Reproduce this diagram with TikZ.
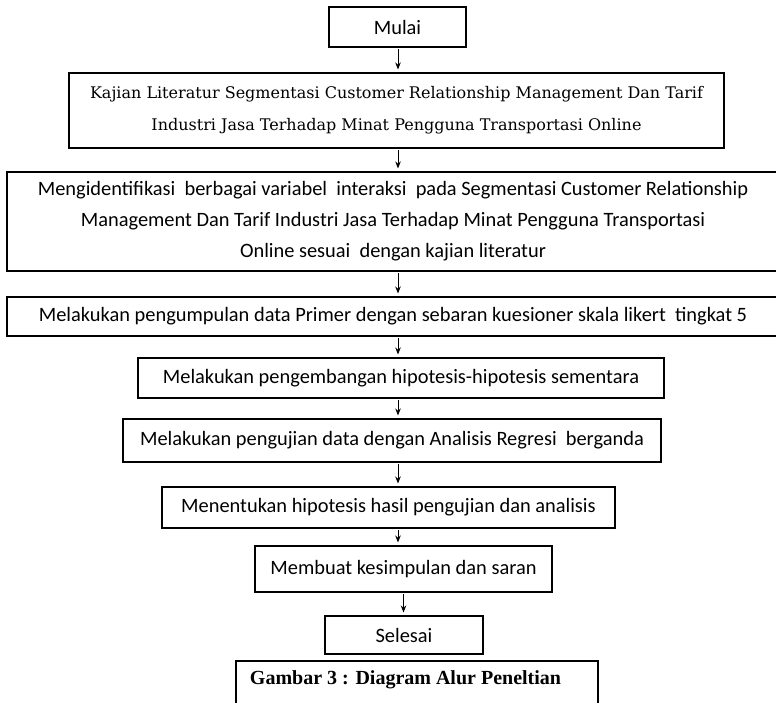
\documentclass[tikz,border=0pt]{standalone}
\usepackage{fontspec}
\setmainfont{Carlito}
\newfontfamily\kajianfont{DejaVu Serif}
\newfontfamily\captionfont{Liberation Serif}
\usepackage{tikz}
\usetikzlibrary{arrows.meta}

\tikzset{
  langkah/.style={draw,line width=1.1pt,inner sep=0pt,align=center,
    font=\fontsize{20.4}{31}\selectfont},
  alur/.style={-{Stealth[length=7pt,width=5.5pt]},line width=0.9pt,shorten <=1.5pt,shorten >=3pt}
}

\begin{document}
\begin{tikzpicture}[x=1pt,y=-1pt]
\useasboundingbox (0,0) rectangle (776,703);
\clip (0,0) rectangle (776,703);

\node[langkah,minimum width=137,minimum height=40] (mulai) at (397.5,27) {Mulai};

\node[langkah,minimum width=655,minimum height=75,font=\kajianfont\fontsize{16}{32}\selectfont] (kajian) at (396.5,110.5) {Kajian Literatur Segmentasi Customer Relationship Management Dan Tarif\\ Industri Jasa Terhadap Minat Pengguna Transportasi Online};

\node[langkah,minimum width=772,minimum height=99] (identifikasi) at (393,221.5) {Mengidentifikasi\ \ berbagai variabel\ \ interaksi\ \ pada Segmentasi Customer Relationship\\ Management Dan Tarif Industri Jasa Terhadap Minat Pengguna Transportasi\\ Online sesuai\ \ dengan kajian literatur};

\node[langkah,minimum width=772,minimum height=39] (kumpul) at (393,316.5) {Melakukan pengumpulan data Primer dengan sebaran kuesioner skala likert\ \ tingkat 5};

\node[langkah,minimum width=526,minimum height=40] (hipotesis) at (401,378) {Melakukan pengembangan hipotesis-hipotesis sementara};

\node[langkah,minimum width=538,minimum height=43] (uji) at (392,440.5) {Melakukan pengujian data dengan Analisis Regresi\ \ berganda};

\node[langkah,minimum width=453,minimum height=41] (hasil) at (388.5,507.5) {Menentukan hipotesis hasil pengujian dan analisis};

\node[langkah,minimum width=297,minimum height=46] (simpul) at (403.5,569) {Membuat kesimpulan dan saran};

\node[langkah,minimum width=158,minimum height=38] (selesai) at (404,635) {Selesai};

% keterangan gambar
\node[font=\captionfont\bfseries\fontsize{20}{24}\selectfont,inner sep=0pt] (gambar) at (405.5,680) {Gambar 3 : Diagram Alur Peneltian};
\draw[line width=1.1pt] (236,706) |- (598,661) -- (598,706);

\coordinate (sumbu) at (398,0);
\draw[alur] (sumbu |- mulai.south) -- (sumbu |- kajian.north);
\draw[alur] (sumbu |- kajian.south) -- (sumbu |- identifikasi.north);
\draw[alur] (sumbu |- identifikasi.south) -- (sumbu |- kumpul.north);
\draw[alur] (sumbu |- kumpul.south) -- (sumbu |- hipotesis.north);
\draw[alur] (sumbu |- hipotesis.south) -- (sumbu |- uji.north);
\draw[alur] (sumbu |- uji.south) -- (sumbu |- hasil.north);
\draw[alur] (sumbu |- hasil.south) -- (sumbu |- simpul.north);
\draw[alur] (simpul.south) -- (simpul.south |- selesai.north);
\end{tikzpicture}
\end{document}
